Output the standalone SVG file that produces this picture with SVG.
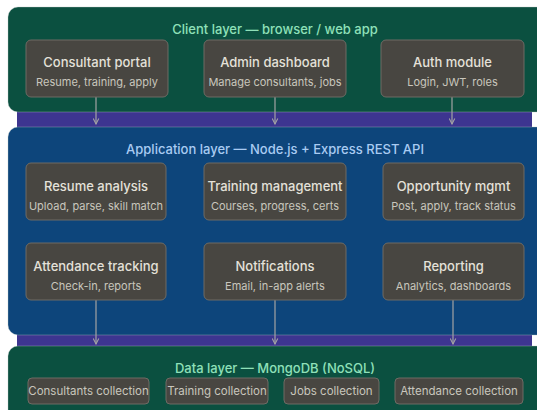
<svg xmlns="http://www.w3.org/2000/svg" width="537" height="410" viewBox="0 0 537 410">
<style>
.layer{stroke:#b8c4bf;stroke-opacity:0.35;stroke-width:1}
.green{fill:#0b5040}
.blue{fill:#0d457b}
.box{fill:#484641;stroke:#6e6b64;stroke-width:1}
.lt{font-family:Inter,"Liberation Sans",sans-serif;font-size:13px;font-weight:500;text-anchor:middle}
.t{font-family:Inter,"Liberation Sans",sans-serif;font-size:13px;font-weight:500;fill:#e4e1d9;text-anchor:middle}
.s{font-family:Inter,"Liberation Sans",sans-serif;font-size:11px;fill:#c9c6bd;text-anchor:middle}
.c{font-family:Inter,"Liberation Sans",sans-serif;font-size:11.5px;fill:#c9c6bd;text-anchor:middle}
.arr{stroke:#a3a3a3;stroke-width:1.2;fill:none}
</style>
<defs>
<marker id="ah" viewBox="0 0 10 10" refX="9" refY="5" markerWidth="7" markerHeight="7" orient="auto" markerUnits="userSpaceOnUse">
<path d="M1,1 L9,5 L1,9" fill="none" stroke="#a3a3a3" stroke-width="1.5"/>
</marker>
</defs>
<rect width="537" height="410" fill="#ffffff"/>
<rect x="17" y="100" width="515" height="255" fill="#3d3590"/>

<g id="client-layer">
<rect class="layer green" x="8" y="7" width="540" height="105" rx="10"/>
<text class="lt" x="275" y="34" fill="#8fe0b9">Client layer — browser / web app</text>
</g>
<g id="app-layer">
<rect class="layer blue" x="8" y="127" width="540" height="208" rx="10"/>
<text class="lt" x="275" y="154" fill="#a9cbf2">Application layer — Node.js + Express REST API</text>
</g>
<g id="data-layer">
<rect class="layer green" x="8" y="346" width="540" height="80" rx="10"/>
<text class="lt" x="275" y="373" fill="#8fe0b9">Data layer — MongoDB (NoSQL)</text>
</g>

<g id="connectors">
<line class="arr" x1="96" y1="97" x2="96" y2="124" marker-end="url(#ah)"/>
<line class="arr" x1="275" y1="97" x2="275" y2="124" marker-end="url(#ah)"/>
<line class="arr" x1="452" y1="97" x2="452" y2="124" marker-end="url(#ah)"/>
<line class="arr" x1="96" y1="300" x2="96" y2="344" marker-end="url(#ah)"/>
<line class="arr" x1="275" y1="300" x2="275" y2="344" marker-end="url(#ah)"/>
<line class="arr" x1="453" y1="300" x2="453" y2="344" marker-end="url(#ah)"/>
</g>

<g id="consultant-portal">
<rect class="box" x="26" y="40" width="142" height="57" rx="5"/>
<text class="t" x="97" y="67">Consultant portal</text>
<text class="s" x="97" y="86">Resume, training, apply</text>
</g>
<g id="admin-dashboard">
<rect class="box" x="204" y="40" width="142" height="57" rx="5"/>
<text class="t" x="275" y="67">Admin dashboard</text>
<text class="s" x="275" y="86">Manage consultants, jobs</text>
</g>
<g id="auth-module">
<rect class="box" x="381" y="40" width="143" height="57" rx="5"/>
<text class="t" x="452.5" y="67">Auth module</text>
<text class="s" x="452.5" y="86">Login, JWT, roles</text>
</g>

<g id="resume-analysis">
<rect class="box" x="26" y="163" width="140" height="57" rx="5"/>
<text class="t" x="96" y="191">Resume analysis</text>
<text class="s" x="96" y="210">Upload, parse, skill match</text>
</g>
<g id="training-management">
<rect class="box" x="204" y="163" width="142" height="57" rx="5"/>
<text class="t" x="275" y="191">Training management</text>
<text class="s" x="275" y="210">Courses, progress, certs</text>
</g>
<g id="opportunity-mgmt">
<rect class="box" x="383" y="163" width="141" height="57" rx="5"/>
<text class="t" x="453.5" y="191">Opportunity mgmt</text>
<text class="s" x="453.5" y="210">Post, apply, track status</text>
</g>

<g id="attendance-tracking">
<rect class="box" x="26" y="243" width="140" height="57" rx="5"/>
<text class="t" x="96" y="271">Attendance tracking</text>
<text class="s" x="96" y="290">Check-in, reports</text>
</g>
<g id="notifications">
<rect class="box" x="204" y="243" width="142" height="57" rx="5"/>
<text class="t" x="275" y="271">Notifications</text>
<text class="s" x="275" y="290">Email, in-app alerts</text>
</g>
<g id="reporting">
<rect class="box" x="383" y="243" width="141" height="57" rx="5"/>
<text class="t" x="453.5" y="271">Reporting</text>
<text class="s" x="453.5" y="290">Analytics, dashboards</text>
</g>

<g id="consultants-collection">
<rect class="box" x="28" y="378" width="121" height="26" rx="4"/>
<text class="c" x="88.5" y="395">Consultants collection</text>
</g>
<g id="training-collection">
<rect class="box" x="166" y="378" width="102" height="26" rx="4"/>
<text class="c" x="217" y="395">Training collection</text>
</g>
<g id="jobs-collection">
<rect class="box" x="284" y="378" width="95" height="26" rx="4"/>
<text class="c" x="331.5" y="395">Jobs collection</text>
</g>
<g id="attendance-collection">
<rect class="box" x="395" y="378" width="128" height="26" rx="4"/>
<text class="c" x="459" y="395">Attendance collection</text>
</g>
</svg>
